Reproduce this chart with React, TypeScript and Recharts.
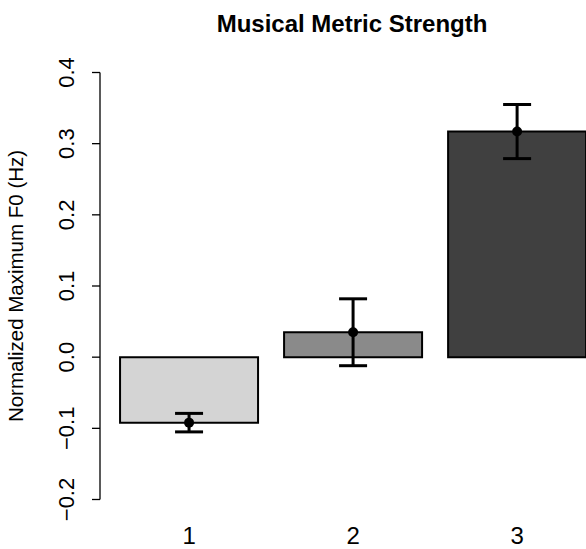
import { ComposedChart, Bar, Cell, ErrorBar, Scatter, XAxis, YAxis } from 'recharts';

const groups = [1, 2, 3];
const means = [-0.092, 0.035, 0.317];
const se = [0.013, 0.047, 0.038];
const fills = ['#d4d4d4', '#8a8a8a', '#404040'];
const yTicks = [-0.2, -0.1, 0, 0.1, 0.2, 0.3, 0.4];

const data = groups.map((g, i) => ({ group: g, value: means[i], err: se[i] }));

const font = '"Liberation Sans", Arial, sans-serif';

const fmt = (v: number) => (v < 0 ? '\u2212' : '') + Math.abs(v).toFixed(1);

function YTick({ x, y, payload }: any) {
  const tx = x - 16;
  return (
    <text x={tx} y={y} transform={`rotate(-90, ${tx}, ${y})`} textAnchor="middle" fontSize={22} fontFamily={font} fill="#000">
      {fmt(payload.value)}
    </text>
  );
}

function XTick({ x, y, payload }: any) {
  return (
    <text x={x} y={y + 36} textAnchor="middle" fontSize={24} fontFamily={font} fill="#000">
      {payload.value}
    </text>
  );
}

export default function App() {
  return (
    <div style={{ position: 'absolute', left: 0, top: 0, width: 586, height: 549, background: '#fff' }}>
      <ComposedChart width={586} height={549} data={data} margin={{ top: 72.5, right: 0, bottom: 0, left: 0 }}>
        <XAxis
          dataKey="group"
          type="number"
          domain={[0.457, 3.42]}
          ticks={groups}
          axisLine={false}
          tickLine={false}
          height={49.5}
          tick={<XTick />}
          allowDataOverflow
        />
        <YAxis
          domain={[-0.2, 0.4]}
          ticks={yTicks}
          width={100}
          tickSize={8}
          axisLine={{ stroke: '#000', strokeWidth: 1.3 }}
          tickLine={{ stroke: '#000', strokeWidth: 1.3 }}
          tick={<YTick />}
          interval={0}
        />
        <Bar dataKey="value" barSize={138} stroke="#000" strokeWidth={2} isAnimationActive={false}>
          {data.map((d, i) => (
            <Cell key={d.group} fill={fills[i]} />
          ))}
          <ErrorBar dataKey="err" width={14} stroke="#000" strokeWidth={3} />
        </Bar>
        <Scatter dataKey="value" fill="#000" isAnimationActive={false} shape={(p: any) => <circle cx={p.cx} cy={p.cy} r={5} fill="#000" />} />
      </ComposedChart>
      <svg width={586} height={549} style={{ position: 'absolute', left: 0, top: 0, pointerEvents: 'none' }}>
        <text x={352} y={32} textAnchor="middle" fontSize={24} fontWeight="bold" fontFamily={font}>
          Musical Metric Strength
        </text>
        <text x={23} y={286} transform="rotate(-90, 23, 286)" textAnchor="middle" fontSize={20.5} fontFamily={font}>
          Normalized Maximum F0 (Hz)
        </text>
      </svg>
    </div>
  );
}
